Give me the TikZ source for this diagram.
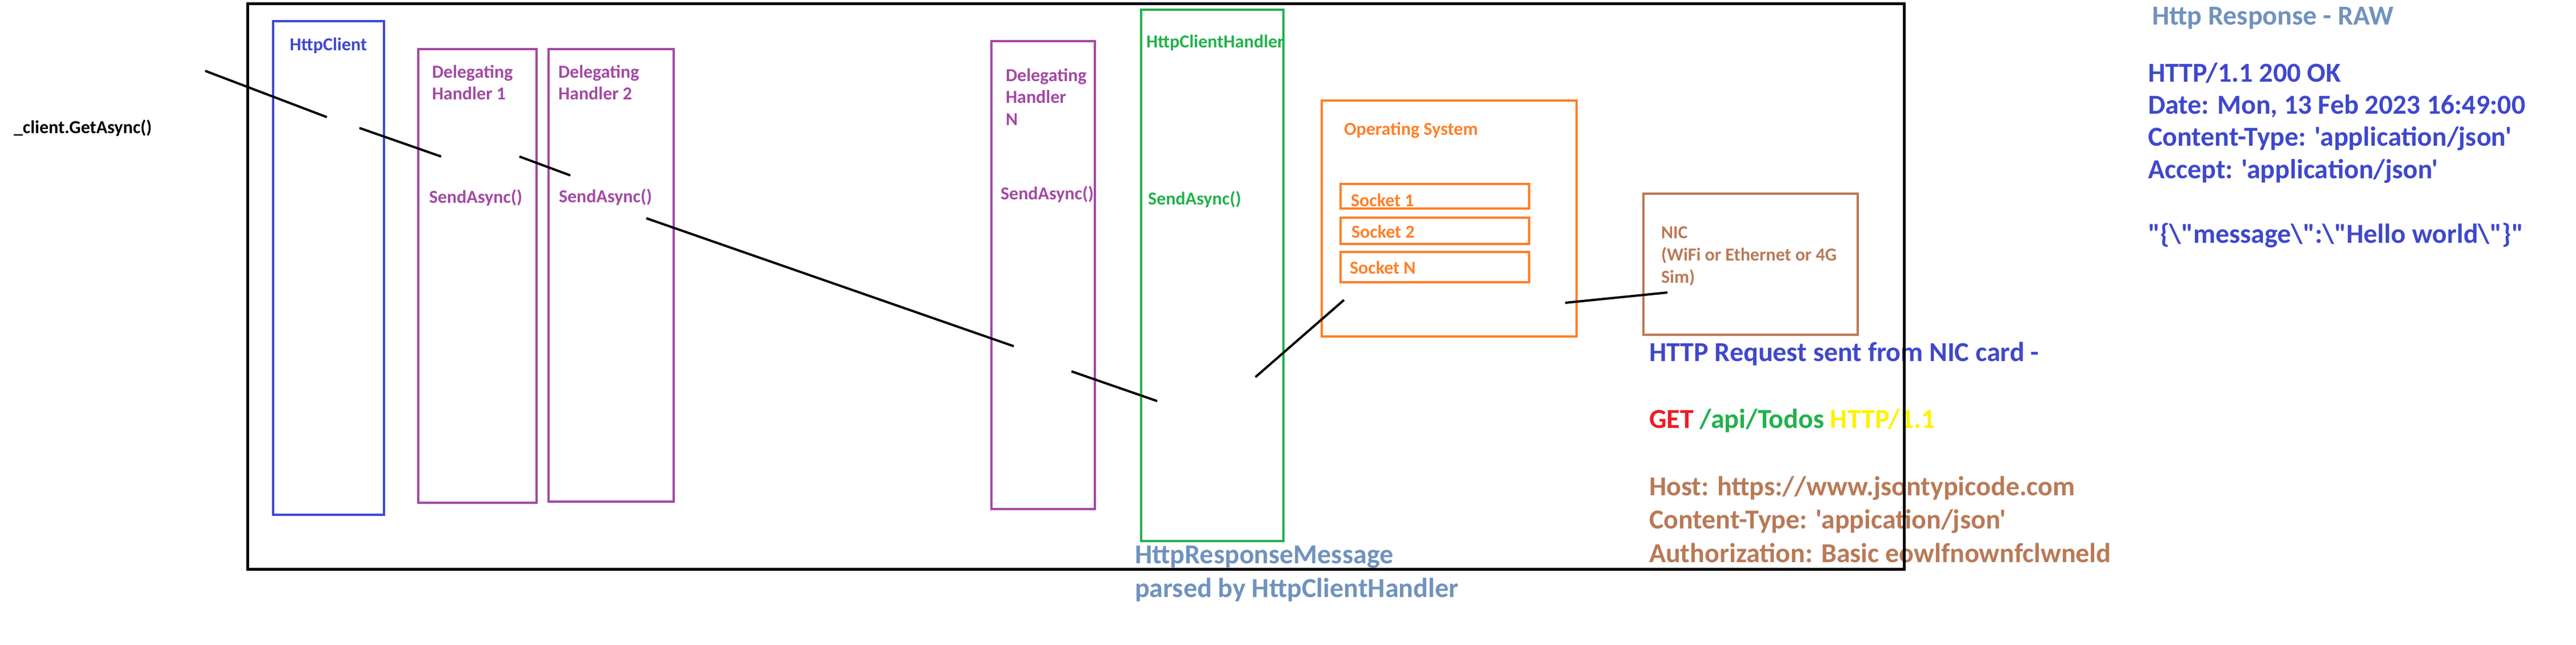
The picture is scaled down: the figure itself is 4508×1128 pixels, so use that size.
\documentclass[tikz,border=0pt]{standalone}
\usepackage{fontspec}
\setmainfont{Carlito}[Ligatures=TeXOff]
\definecolor{cblue}{HTML}{3F48CC}
\definecolor{csteel}{HTML}{7092BE}
\definecolor{cpurple}{HTML}{A349A4}
\definecolor{cgreen}{HTML}{22B14C}
\definecolor{corange}{HTML}{FF7F27}
\definecolor{cbrown}{HTML}{B97A57}
\definecolor{cred}{HTML}{ED1C24}
\definecolor{cyellow}{HTML}{FFF200}
\tikzset{
  lbl/.style={anchor=base west, inner sep=0pt, outer sep=0pt, font=\bfseries\fontsize{32}{38}\selectfont},
  big/.style={anchor=base west, inner sep=0pt, outer sep=0pt, font=\bfseries\fontsize{48}{58}\selectfont},
  boxc/.style={draw=#1, line width=4.5pt, inner sep=0pt, outer sep=0pt, anchor=center},
  frame/.style={draw=black, line width=5pt, inner sep=0pt, outer sep=0pt, anchor=center},
  link/.style={draw=black, line width=4pt}
}
\begin{document}
\begin{tikzpicture}[x=1pt,y=-1pt]
\useasboundingbox[fill=white] (0,0) rectangle (4508,1128);

% ---- texts ----
\node[lbl] (getasync) at (24,233) {\_client.GetAsync()};
\node[lbl, text=cblue] (hclbl) at (507,88) {HttpClient};
\node[lbl, text=cpurple] (dh1a) at (756,136) {Delegating};
\node[lbl, text=cpurple] (dh1b) at (756,174) {Handler 1};
\node[lbl, text=cpurple] (dh1s) at (751,355) {SendAsync()};
\node[lbl, text=cpurple] (dh2a) at (977,136) {Delegating};
\node[lbl, text=cpurple] (dh2b) at (977,174) {Handler 2};
\node[lbl, text=cpurple] (dh2s) at (978,354) {SendAsync()};
\node[lbl, text=cpurple] (dhna) at (1760,142) {Delegating};
\node[lbl, text=cpurple] (dhnb) at (1760,180.5) {Handler};
\node[lbl, text=cpurple] (dhnc) at (1760,219) {N};
\node[lbl, text=cpurple] (dhns) at (1751,349) {SendAsync()};
\node[lbl, text=cgreen] (hchlbl) at (2006,83) {HttpClientHandler};
\node[lbl, text=cgreen] (hchs) at (2009,358) {SendAsync()};
\node[lbl, text=corange] (oslbl) at (2352,236) {Operating System};
\node[lbl, text=corange] (s1lbl) at (2364,361) {Socket 1};
\node[lbl, text=corange] (s2lbl) at (2365,416) {Socket 2};
\node[lbl, text=corange] (snlbl) at (2362,479) {Socket N};
\node[lbl, text=cbrown] (nica) at (2907,417) {NIC};
\node[lbl, text=cbrown] (nicb) at (2907,456) {(WiFi or Ethernet or 4G};
\node[lbl, text=cbrown] (nicc) at (2907,495) {Sim)};

\node[big, text=csteel] (resp1) at (1986,986) {HttpResponseMessage};
\node[big, text=csteel] (resp2) at (1986,1045) {parsed by HttpClientHandler};

\node[big, text=cblue] (req0) at (2886,632) {HTTP Request sent from NIC card -};
\node[big] (req1) at (2886,749) {\textcolor{cred}{GET} \textcolor{cgreen}{/api/Todos} \textcolor{cyellow}{HTTP/1.1}};
\node[big, text=cbrown] (req2) at (2886,867) {Host: https://www.jsontypicode.com};
\node[big, text=cbrown] (req3) at (2886,925) {Content-Type: 'appication/json'};
\node[big, text=cbrown] (req4) at (2886,984) {Authorization: Basic eowlfnownfclwneld};

\node[big, text=csteel] (raw0) at (3766,43) {Http Response - RAW};
\node[big, text=cblue] (raw1) at (3759,143) {HTTP/1.1 200 OK};
\node[big, text=cblue] (raw2) at (3759,199) {Date: Mon, 13 Feb 2023 16:49:00};
\node[big, text=cblue] (raw3) at (3759,255) {Content-Type: 'application/json'};
\node[big, text=cblue] (raw4) at (3759,312) {Accept: 'application/json'};
\node[big, text=cblue] (raw5) at (3759,425) {"\{\textbackslash"message\textbackslash":\textbackslash"Hello world\textbackslash"\}"};

% ---- boxes ----
\node[boxc=cblue, minimum width=194pt, minimum height=864pt] (hc) at (575,469) {};
\node[boxc=cpurple, minimum width=207pt, minimum height=794pt] (dh1) at (835.5,483) {};
\node[boxc=cpurple, minimum width=219pt, minimum height=792pt] (dh2) at (1069.5,482) {};
\node[boxc=cpurple, minimum width=181pt, minimum height=819pt] (dhn) at (1825.5,481.5) {};
\node[boxc=cgreen, minimum width=249pt, minimum height=930pt] (hch) at (2121.5,482) {};
\node[boxc=corange, minimum width=446pt, minimum height=413pt] (os) at (2536,382.5) {};
\node[boxc=corange, minimum width=330pt, minimum height=43pt] (s1) at (2511,343.5) {};
\node[boxc=corange, minimum width=330pt, minimum height=46pt] (s2) at (2511,404) {};
\node[boxc=corange, minimum width=330pt, minimum height=53pt] (sn) at (2511,467.5) {};
\node[boxc=cbrown, minimum width=375pt, minimum height=247pt] (nic) at (3063.5,462.5) {};

\node[frame, minimum width=2899pt, minimum height=990pt] (outer) at (1882.5,501) {};

% ---- connector segments ----
\coordinate (a1) at (359,124);   \coordinate (b1) at (572,205);
\coordinate (a2) at (629,224);   \coordinate (b2) at (772,274);
\coordinate (a3) at (909,274);   \coordinate (b3) at (998,307);
\coordinate (a4) at (1131,382);  \coordinate (b4) at (1774,606);
\coordinate (a5) at (1875,650);  \coordinate (b5) at (2025,702);
\coordinate (a6) at (2197,660);  \coordinate (b6) at (2352,525);
\coordinate (a7) at (2739,530);  \coordinate (b7) at (2918,512);
\draw[link] (a1) -- (b1);
\draw[link] (a2) -- (b2);
\draw[link] (a3) -- (b3);
\draw[link] (a4) -- (b4);
\draw[link] (a5) -- (b5);
\draw[link] (a6) -- (b6);
\draw[link] (a7) -- (b7);
\end{tikzpicture}
\end{document}
